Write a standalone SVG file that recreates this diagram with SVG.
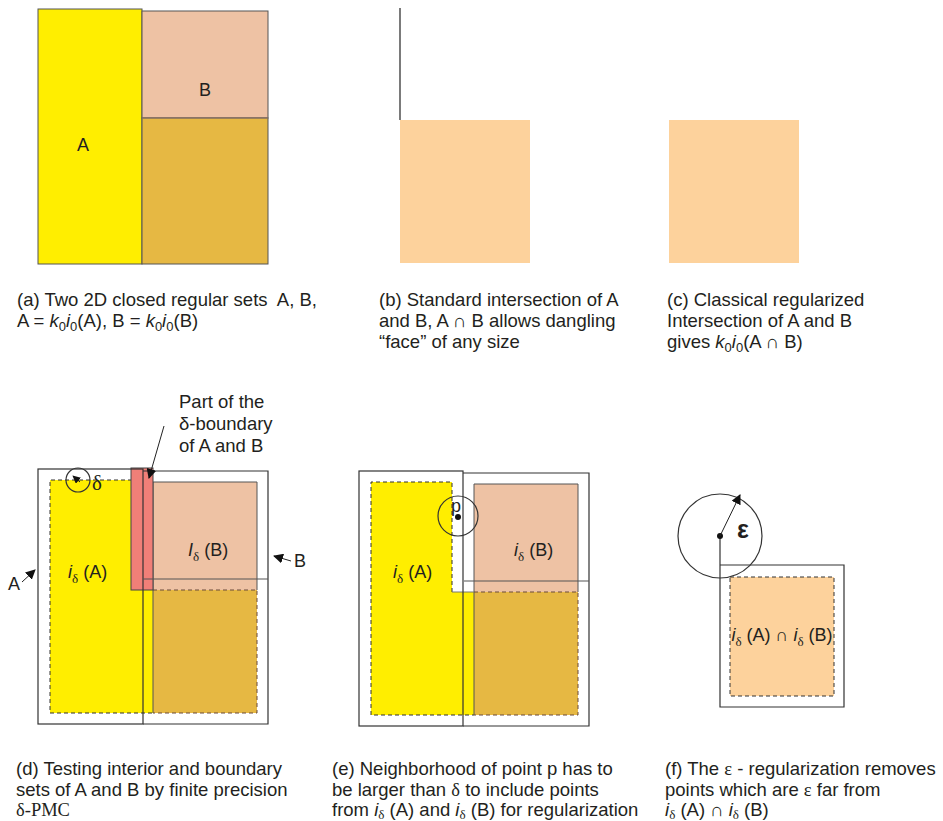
<svg xmlns="http://www.w3.org/2000/svg" width="943" height="821" viewBox="0 0 943 821">
<defs>
<style>
text{font-family:"Liberation Sans",Arial,sans-serif;fill:#231f20}
.cap{font-size:18.5px}
.lbl{font-size:18px}
.ser{font-family:"Liberation Serif","Times New Roman",serif}
.it{font-style:italic}
.yel{fill:#FFEE00}
.gold{fill:#E6B843}
.sal{fill:#EEC2A4}
.pea{fill:#FDD29C}
.ol{fill:none;stroke:#333;stroke-width:1.2}
.dash{fill:none;stroke:#333;stroke-width:1;stroke-dasharray:4 3}
.dashb{fill:none;stroke:#6b4a3a;stroke-width:1;stroke-dasharray:4 3}
.ln{stroke:#222;stroke-width:1.2;fill:none}
</style>
<marker id="ah" viewBox="0 0 10 10" refX="9" refY="5" markerWidth="8" markerHeight="8" orient="auto" markerUnits="userSpaceOnUse">
<path d="M0,0 L10,5 L0,10 z" fill="#111"/>
</marker>
<marker id="ahs" viewBox="0 0 10 10" refX="9" refY="5" markerWidth="10" markerHeight="10" orient="auto" markerUnits="userSpaceOnUse">
<path d="M0,0 L10,5 L0,10 z" fill="#111"/>
</marker>
</defs>

<!-- Panel a -->
<g id="panel-a">
<rect x="38" y="9" width="104" height="255" class="yel" stroke="#555" stroke-width="1"/>
<rect x="142" y="11" width="126" height="107" class="sal" stroke="#555" stroke-width="1"/>
<rect x="142" y="118" width="126" height="146" class="gold" stroke="#555" stroke-width="1"/>
<line x1="142" y1="118" x2="268" y2="118" stroke="#9a7a66" stroke-width="1.2"/>
<text class="lbl" x="83" y="151" text-anchor="middle">A</text>
<text class="lbl" x="205" y="96" text-anchor="middle">B</text>
</g>

<!-- Panel b -->
<g id="panel-b">
<line x1="400" y1="8" x2="400" y2="120" class="ln"/>
<rect x="400" y="120" width="130" height="143" class="pea"/>
</g>

<!-- Panel c -->
<g id="panel-c">
<rect x="669" y="120" width="130" height="143" class="pea"/>
</g>

<!-- Captions top -->
<g id="caption-a">
<text class="cap" x="17" y="306" xml:space="preserve">(a) Two 2D closed regular sets  A, B,</text>
<text class="cap" x="17" y="327">A = <tspan class="it">k</tspan><tspan font-size="13" dy="4">0</tspan><tspan class="it" dy="-4">i</tspan><tspan font-size="13" dy="4">0</tspan><tspan dy="-4">(A), B = </tspan><tspan class="it">k</tspan><tspan font-size="13" dy="4">0</tspan><tspan class="it" dy="-4">i</tspan><tspan font-size="13" dy="4">0</tspan><tspan dy="-4">(B)</tspan></text>
</g>
<g id="caption-b">
<text class="cap" x="379" y="306">(b) Standard intersection of A</text>
<text class="cap" x="379" y="327">and B, A ∩ B allows dangling</text>
<text class="cap" x="379" y="348">“face” of any size</text>
</g>
<g id="caption-c">
<text class="cap" x="667" y="306">(c) Classical regularized</text>
<text class="cap" x="667" y="327">Intersection of A and B</text>
<text class="cap" x="667" y="348">gives <tspan class="it">k</tspan><tspan font-size="13" dy="4">0</tspan><tspan class="it" dy="-4">i</tspan><tspan font-size="13" dy="4">0</tspan><tspan dy="-4">(A ∩ B)</tspan></text>
</g>

<!-- Panel d -->
<g id="panel-d">
<rect x="50" y="480" width="103" height="233" class="yel"/>
<rect x="153" y="482" width="104" height="108" class="sal"/>
<rect x="153" y="590" width="104" height="123" class="gold"/>
<path d="M132,480 L50,480 L50,713 L153,713" class="dash"/>
<path d="M153,590 L257,590 L257,713 L153,713" class="dashb"/>
<path d="M153,590 L153,482 L257,482 L257,590" fill="none" stroke="#555" stroke-width="1"/>
<line x1="153" y1="590" x2="153" y2="713" stroke="#555" stroke-width="1"/>
<rect x="131" y="468" width="22" height="122" fill="#F07F78" stroke="#444" stroke-width="1"/>
<rect x="38" y="469" width="105" height="255" class="ol"/>
<path d="M143,471 L268,471 L268,724 L143,724" class="ol"/>
<line x1="143" y1="579" x2="268" y2="579" stroke="#555" stroke-width="1.2"/>
<circle cx="78" cy="480" r="12" class="ol"/>
<line x1="80" y1="482" x2="73" y2="476" stroke="#111" stroke-width="1" marker-end="url(#ah)"/>
<text x="92" y="490" font-size="21" class="ser">δ</text>
<text class="lbl" x="68" y="578"><tspan class="it">i</tspan><tspan font-size="13" dy="5" class="ser">δ</tspan><tspan dy="-5"> (A)</tspan></text>
<text class="lbl" x="188" y="556"><tspan class="it">I</tspan><tspan font-size="13" dy="5" class="ser">δ</tspan><tspan dy="-5"> (B)</tspan></text>
<text class="lbl" x="8" y="590">A</text>
<text class="lbl" x="294" y="567">B</text>
<text class="cap" x="179" y="408">Part of the</text>
<text class="cap" x="179" y="430">δ-boundary</text>
<text class="cap" x="179" y="452">of A and B</text>
</g>

<!-- Panel e -->
<g id="panel-e">
<path d="M371,482 L452,482 L452,592 L474,592 L474,715 L371,715 z" class="yel"/>
<rect x="474" y="484" width="104" height="108" class="sal"/>
<rect x="474" y="592" width="104" height="123" class="gold"/>
<path d="M452,592 L452,482 L371,482 L371,715 L474,715" class="dash"/>
<path d="M474,592 L578,592 L578,715 L474,715" class="dashb"/>
<path d="M474,592 L474,484 L578,484 L578,592" fill="none" stroke="#555" stroke-width="1"/>
<line x1="474" y1="592" x2="474" y2="715" stroke="#555" stroke-width="1"/>
<line x1="452" y1="592" x2="474" y2="592" stroke="#777" stroke-width="1"/>
<rect x="359" y="471" width="104" height="255" class="ol"/>
<path d="M463,473 L589,473 L589,726 L463,726" class="ol"/>
<line x1="464" y1="581" x2="589" y2="581" stroke="#555" stroke-width="1.2"/>
<circle cx="458" cy="516" r="20" class="ol" stroke-width="1"/>
<circle cx="458" cy="517" r="3" fill="#111"/>
<text class="lbl" x="451" y="512">p</text>
<text class="lbl" x="393" y="578"><tspan class="it">i</tspan><tspan font-size="13" dy="5" class="ser">δ</tspan><tspan dy="-5"> (A)</tspan></text>
<text class="lbl" x="514" y="556"><tspan class="it">i</tspan><tspan font-size="13" dy="5" class="ser">δ</tspan><tspan dy="-5"> (B)</tspan></text>
</g>

<!-- Panel f -->
<g id="panel-f">
<rect x="730" y="577" width="104" height="119" class="pea"/>
<rect x="730" y="577" width="104" height="119" class="dash"/>
<path d="M720,536 L720,707 L844,707 L844,565 L720,565" class="ol"/>
<circle cx="720" cy="536" r="42" class="ol" stroke-width="1"/>
<circle cx="720" cy="536" r="3" fill="#111"/>
<text x="737" y="538" font-size="25" font-weight="bold">ε</text>
<text class="lbl" x="782" y="641" text-anchor="middle"><tspan class="it">i</tspan><tspan font-size="13" dy="5" class="ser">δ</tspan><tspan dy="-5"> (A) ∩ </tspan><tspan class="it">i</tspan><tspan font-size="13" dy="5" class="ser">δ</tspan><tspan dy="-5"> (B)</tspan></text>
</g>

<!-- Captions bottom -->
<g id="caption-d">
<text class="cap" x="16" y="775">(d) Testing interior and boundary</text>
<text class="cap" x="16" y="796">sets of A and B by finite precision</text>
<text class="cap ser" x="16" y="816">δ-PMC</text>
</g>
<g id="caption-e">
<text class="cap" x="332" y="775">(e) Neighborhood of point p has to</text>
<text class="cap" x="332" y="796">be larger than <tspan class="ser">δ</tspan> to include points</text>
<text class="cap" x="332" y="816">from <tspan class="it">i</tspan><tspan font-size="13" dy="3" class="ser">δ</tspan><tspan dy="-3"> (A) and </tspan><tspan class="it">i</tspan><tspan font-size="13" dy="3" class="ser">δ</tspan><tspan dy="-3"> (B) for regularization</tspan></text>
</g>
<g id="caption-f">
<text class="cap" x="665" y="775">(f) The <tspan class="ser">ε</tspan> - regularization removes</text>
<text class="cap" x="665" y="796">points which are <tspan class="ser">ε</tspan> far from</text>
<text class="cap" x="665" y="816"><tspan class="it">i</tspan><tspan font-size="13" dy="3" class="ser">δ</tspan><tspan dy="-3"> (A) ∩ </tspan><tspan class="it">i</tspan><tspan font-size="13" dy="3" class="ser">δ</tspan><tspan dy="-3"> (B)</tspan></text>
</g>

<!-- Connectors -->
<g id="connectors">
<line x1="164" y1="426" x2="149" y2="478" stroke="#222" stroke-width="1" marker-end="url(#ahs)"/>
<line x1="22" y1="582" x2="35" y2="570" stroke="#222" stroke-width="1" marker-end="url(#ahs)"/>
<line x1="291" y1="561" x2="274" y2="556" stroke="#222" stroke-width="1" marker-end="url(#ahs)"/>
<line x1="720" y1="536" x2="740" y2="495" stroke="#222" stroke-width="1" marker-end="url(#ahs)"/>
</g>
</svg>
